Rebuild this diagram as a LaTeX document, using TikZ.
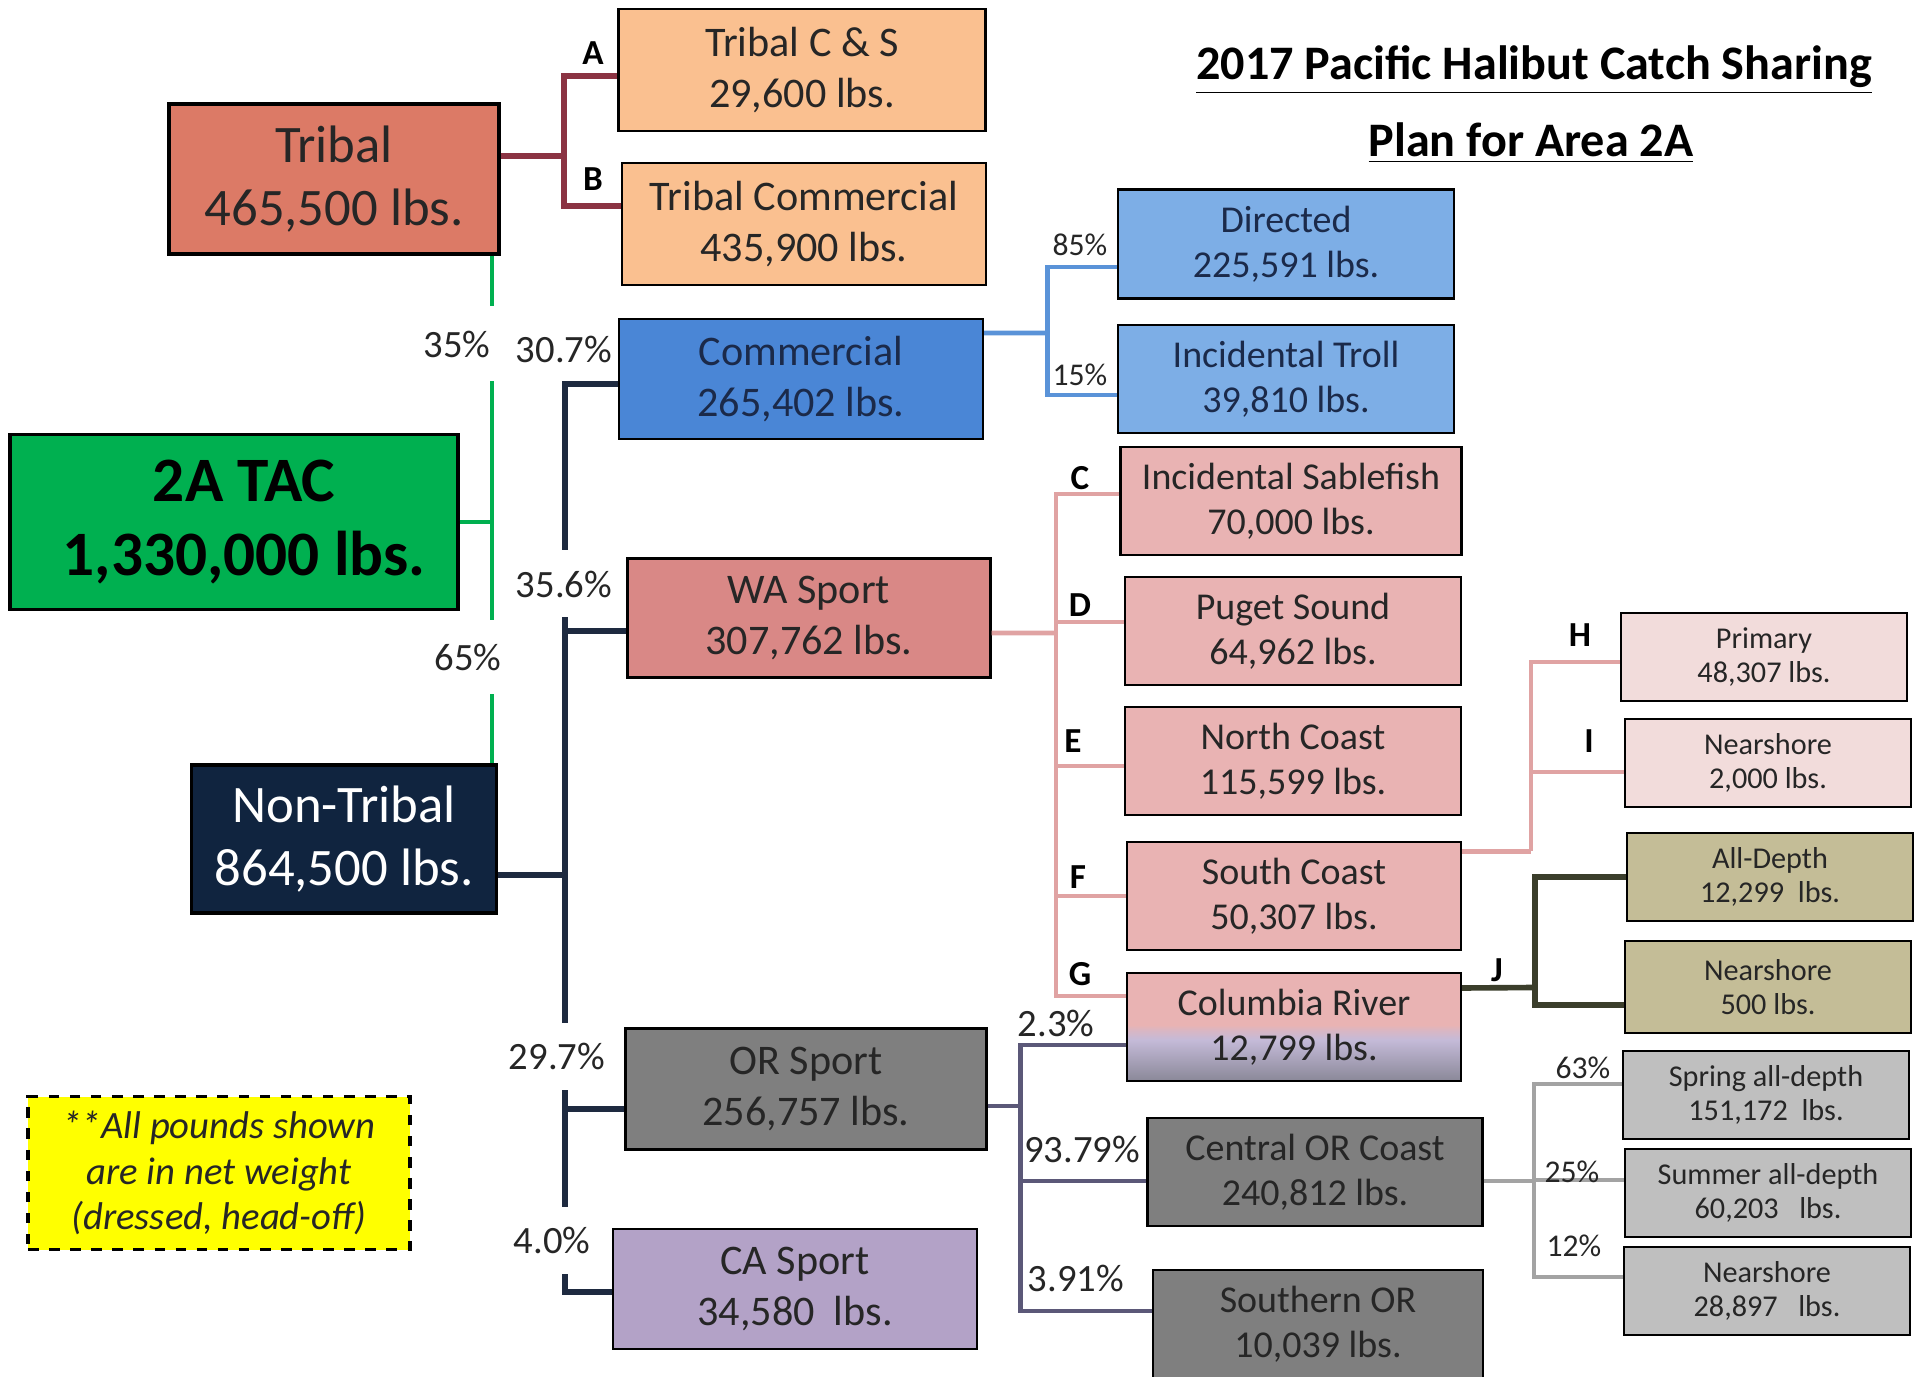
\documentclass[tikz,border=0pt]{standalone}
\usepackage{fontspec}
\setmainfont{Carlito}
\definecolor{tribred}{HTML}{DC7A66}
\definecolor{tcsorange}{HTML}{FAC090}
\definecolor{commblue}{HTML}{4A86D6}
\definecolor{dirblue}{HTML}{7DAEE6}
\definecolor{tacgreen}{HTML}{00B050}
\definecolor{navybox}{HTML}{10243F}
\definecolor{navytext}{HTML}{1B2A4A}
\definecolor{wared}{HTML}{D98886}
\definecolor{wapink}{HTML}{E9B3B3}
\definecolor{lightpink}{HTML}{F2DCDB}
\definecolor{khaki}{HTML}{C4BD97}
\definecolor{orgray}{HTML}{7F7F7F}
\definecolor{leafgray}{HTML}{BFBFBF}
\definecolor{calav}{HTML}{B3A2C7}
\definecolor{notey}{HTML}{FFFF00}
\definecolor{colmid}{HTML}{C4BAD8}
\definecolor{colbot}{HTML}{8A8898}
\definecolor{tribline}{HTML}{8B3343}
\definecolor{navyline}{HTML}{1E2A40}
\definecolor{blueline}{HTML}{5A93D8}
\definecolor{pinkline}{HTML}{E0A3A3}
\definecolor{oliveline}{HTML}{3B3E2B}
\definecolor{orline}{HTML}{5B5878}
\definecolor{grayline}{HTML}{A3A3A3}
\pgfdeclareverticalshading{colshade}{100bp}{color(0bp)=(colbot); color(25bp)=(colbot); color(44bp)=(colmid); color(48bp)=(colmid!50!wapink); color(51bp)=(wapink); color(100bp)=(wapink)}
\begin{document}
\begin{tikzpicture}[thick,
    box/.style={draw=black, line width=0.6pt, align=center, inner sep=0pt, text=black!85},
    topbox/.style={box, line width=0.9pt, font=\fontsize{15}{17.8}\selectfont},
    midbox/.style={box, minimum width=3.64cm, minimum height=1.2cm, font=\fontsize{12}{14.6}\selectfont},
    subbox/.style={box, minimum width=3.36cm, minimum height=1.08cm, font=\fontsize{10.8}{12.9}\selectfont},
    leafbox/.style={box, minimum width=2.86cm, minimum height=0.88cm, font=\fontsize{8.6}{9.8}\selectfont},
    pct/.style={font=\fontsize{11}{12}\selectfont, text=black!85, inner sep=0pt},
    pcts/.style={font=\fontsize{9}{10}\selectfont, text=black!85, inner sep=0pt},
    lettertag/.style={font=\bfseries\fontsize{10}{11}\selectfont, inner sep=0pt},
    lblgap/.style={fill=white, minimum height=0.67cm},
    link/.style={line width=1.35pt},
    biglink/.style={line width=1.6pt}]
  \useasboundingbox (0,0) rectangle (19.21,-13.77);
  \node[font=\bfseries\fontsize{13.7}{16}\selectfont] (title1) at (15.34,-0.70) {\underline{2017 Pacific Halibut Catch Sharing}};
  \node[font=\bfseries\fontsize{13.7}{16}\selectfont] (title2) at (15.31,-1.43) {\underline{Plan for Area 2A}};
  \node[topbox, fill=tribred, minimum width=3.30cm, minimum height=1.50cm] (tribal) at (3.34,-1.79) {Tribal\\465,500 lbs.};
  \node[topbox, fill=tacgreen, minimum width=4.48cm, minimum height=1.75cm, font=\bfseries\fontsize{18}{21.3}\selectfont, text=black] (tac) at (2.34,-5.22) {\hspace{0.2cm}2A TAC\\\hspace{0.2cm}1,330,000 lbs.};
  \node[topbox, fill=navybox, text=white, minimum width=3.05cm, minimum height=1.48cm] (nontribal) at (3.44,-8.39) {Non-Tribal\\864,500 lbs.};
  \node[midbox, fill=tcsorange, minimum width=3.67cm, minimum height=1.22cm] (tcs) at (8.02,-0.70) {Tribal C \& S\\29,600 lbs.};
  \node[midbox, fill=tcsorange, minimum height=1.22cm] (tcom) at (8.04,-2.24) {Tribal Commercial\\435,900 lbs.};
  \node[midbox, fill=commblue, text=navytext] (comm) at (8.01,-3.79) {Commercial\\265,402 lbs.};
  \node[midbox, fill=wared, minimum width=3.63cm, minimum height=1.19cm] (wasport) at (8.09,-6.18) {WA Sport\\307,762 lbs.};
  \node[midbox, fill=orgray, minimum width=3.61cm, minimum height=1.21cm] (orsport) at (8.06,-10.89) {OR Sport\\256,757 lbs.};
  \node[midbox, fill=calav] (casport) at (7.95,-12.89) {CA Sport\\34,580\ \ lbs.};
  \node[subbox, fill=dirblue, text=navytext, minimum height=1.09cm] (directed) at (12.86,-2.44) {Directed\\225,591 lbs.};
  \node[subbox, fill=dirblue, text=navytext] (troll) at (12.86,-3.79) {Incidental Troll\\39,810 lbs.};
  \node[subbox, fill=wapink, minimum width=3.41cm] (sable) at (12.91,-5.01) {Incidental Sablefish\\70,000 lbs.};
  \node[subbox, fill=wapink] (puget) at (12.93,-6.31) {Puget Sound\\64,962 lbs.};
  \node[subbox, fill=wapink] (north) at (12.93,-7.61) {North Coast\\115,599 lbs.};
  \node[subbox, fill=wapink, minimum width=3.34cm] (south) at (12.94,-8.96) {South Coast\\50,307 lbs.};
  \node[subbox, shading=colshade, minimum width=3.34cm] (columbia) at (12.94,-10.27) {Columbia River\\12,799 lbs.};
  \node[subbox, fill=orgray, minimum width=3.35cm] (central) at (13.15,-11.72) {Central OR Coast\\240,812 lbs.};
  \node[subbox, fill=orgray, minimum width=3.30cm] (southern) at (13.18,-13.24) {Southern OR\\10,039 lbs.};
  \node[leafbox, fill=lightpink] (primary) at (17.64,-6.57) {Primary\\48,307 lbs.};
  \node[leafbox, fill=lightpink] (nearI) at (17.68,-7.63) {Nearshore\\2,000 lbs.};
  \node[leafbox, fill=khaki] (alldepth) at (17.70,-8.77) {All-Depth\\12,299\ \ lbs.};
  \node[leafbox, fill=khaki, minimum height=0.92cm] (nearJ) at (17.68,-9.87) {Nearshore\\500 lbs.};
  \node[leafbox, fill=leafgray] (spring) at (17.66,-10.95) {Spring all-depth\\151,172\ \ lbs.};
  \node[leafbox, fill=leafgray] (summer) at (17.68,-11.93) {Summer all-depth\\60,203\ \ \ lbs.};
  \node[leafbox, fill=leafgray] (nearO) at (17.67,-12.91) {Nearshore\\28,897\ \ \ lbs.};
  \node[draw=black, dashed, line width=0.9pt, fill=notey, minimum width=3.82cm, minimum height=1.53cm, align=center, font=\itshape\fontsize{11}{12.9}\selectfont, text=black!85] (note) at (2.19,-11.73) {**All pounds shown\\are in net weight\\(dressed, head-off)};
  \coordinate (ab) at (5.64,-1.56);
  \coordinate (g) at (4.92,-5.22);
  \coordinate (nb) at (5.65,-8.75);
  \coordinate (cb) at (10.475,-3.33);
  \coordinate (wb) at (10.56,-6.33);
  \coordinate (sb) at (15.31,-8.515);
  \coordinate (jb) at (15.35,-9.875);
  \coordinate (ob) at (10.205,-11.06);
  \coordinate (gb) at (15.34,-11.81);
  \draw[biglink, tribline] ([yshift=0.23cm]tribal.east) -- (ab);
  \draw[biglink, tribline] ([yshift=-0.06cm]tcs.west) -| (ab) |- ([yshift=0.18cm]tcom.west);
  \draw[link, tacgreen] (tac.east) -- (g);
  \draw[link, tacgreen] (tribal.south -| g) -- (nontribal.north -| g);
  \draw[biglink, navyline] ([yshift=-0.36cm]nontribal.east) -- (nb);
  \draw[biglink, navyline] ([yshift=-0.05cm]comm.west) -| (nb) |- ([yshift=-0.03cm]casport.west);
  \draw[biglink, navyline] ([yshift=-0.13cm]wasport.west) -| (nb);
  \draw[biglink, navyline] ([yshift=-0.2cm]orsport.west) -| (nb);
  \draw[link, blueline] ([yshift=0.46cm]comm.east) -- (cb);
  \draw[link, blueline] ([yshift=-0.23cm]directed.west) -| (cb) |- ([yshift=-0.16cm]troll.west);
  \draw[link, pinkline] ([yshift=-0.15cm]wasport.east) -- (wb);
  \draw[link, pinkline] ([yshift=0.07cm]sable.west) -| (wb) |- ([yshift=0.31cm]columbia.west);
  \draw[link, pinkline] ([yshift=0.09cm]puget.west) -| (wb);
  \draw[link, pinkline] ([yshift=-0.05cm]north.west) -| (wb);
  \draw[link, pinkline] (south.west) -| (wb);
  \draw[link, pinkline] ([yshift=0.445cm]south.east) -- (sb);
  \draw[link, pinkline] ([yshift=-0.05cm]primary.west) -| (sb);
  \draw[link, pinkline] ([yshift=-0.09cm]nearI.west) -| (sb);
  \draw[biglink, oliveline] ([yshift=0.39cm]columbia.east) -- (jb);
  \draw[biglink, oliveline] (alldepth.west) -| (jb) |- ([yshift=-0.18cm]nearJ.west);
  \draw[link, orline] ([yshift=-0.17cm]orsport.east) -- (ob);
  \draw[link, orline] ([yshift=-0.18cm]columbia.west) -| (ob) |- ([yshift=0.13cm]southern.west);
  \draw[link, orline] ([yshift=-0.09cm]central.west) -| (ob);
  \draw[link, grayline] ([yshift=-0.09cm]central.east) -- (gb);
  \draw[link, grayline] ([yshift=0.11cm]spring.west) -| (gb) |- ([yshift=0.14cm]nearO.west);
  \draw[link, grayline] ([yshift=0.13cm]summer.west) -| (gb);
  \node[pct, lblgap, minimum width=0.85cm, minimum height=0.75cm] (p35) at (4.57,-3.44) {35\%};
  \node[pct, lblgap, minimum width=0.66cm, minimum height=0.74cm] (p65) at (4.68,-6.57) {65\%};
  \node[pct] (p307) at (5.64,-3.49) {30.7\%};
  \node[pct, lblgap] (p356) at (5.64,-5.84) {35.6\%};
  \node[pct, lblgap] (p297) at (5.57,-10.56) {29.7\%};
  \node[pct, lblgap] (p40) at (5.52,-12.40) {4.0\%};
  \node[pcts] (p85) at (10.80,-2.45) {85\%};
  \node[pcts] (p15) at (10.80,-3.75) {15\%};
  \node[pct] (p23) at (10.56,-10.23) {2.3\%};
  \node[pct] (p9379) at (10.82,-11.49) {93.79\%};
  \node[pct] (p391) at (10.76,-12.78) {3.91\%};
  \node[pcts] (p63) at (15.83,-10.68) {63\%};
  \node[pcts] (p25) at (15.72,-11.72) {25\%};
  \node[pcts] (p12) at (15.74,-12.46) {12\%};
  \node[lettertag] (tA) at (5.93,-0.53) {A};
  \node[lettertag] (tB) at (5.93,-1.79) {B};
  \node[lettertag] (tC) at (10.80,-4.78) {C};
  \node[lettertag] (tD) at (10.80,-6.05) {D};
  \node[lettertag] (tE) at (10.73,-7.41) {E};
  \node[lettertag] (tF) at (10.78,-8.77) {F};
  \node[lettertag] (tG) at (10.80,-9.74) {G};
  \node[lettertag] (tH) at (15.80,-6.35) {H};
  \node[lettertag] (tI) at (15.89,-7.41) {I};
  \node[lettertag] (tJ) at (14.97,-9.70) {J};
\end{tikzpicture}
\end{document}
